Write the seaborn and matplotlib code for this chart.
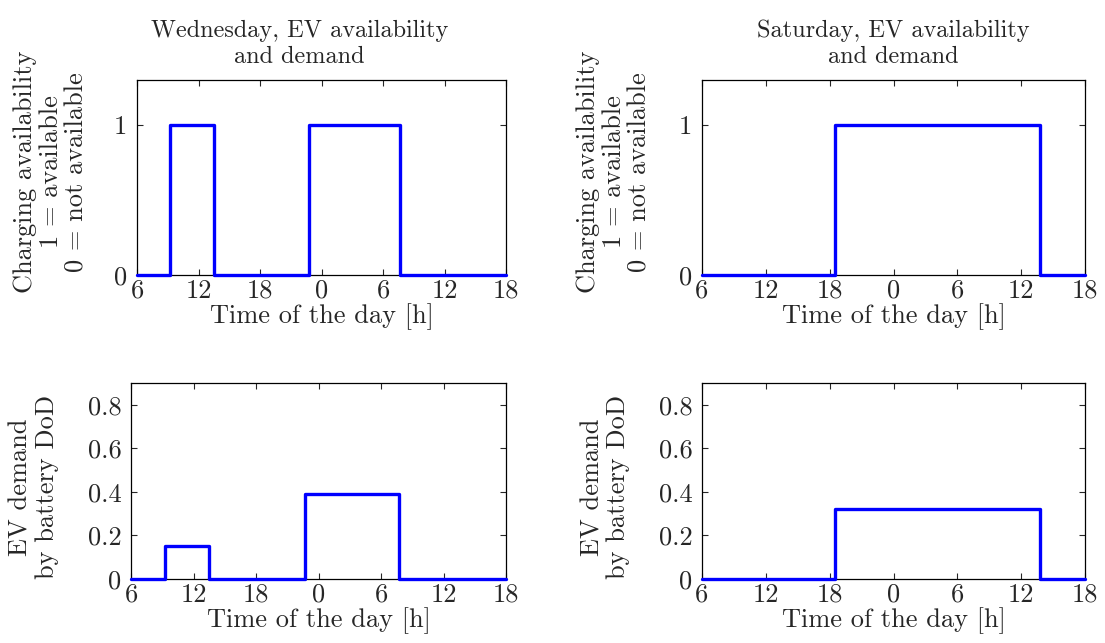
import matplotlib
matplotlib.use("Agg")
import matplotlib.pyplot as plt
import seaborn as sns
import pandas as pd

# time axis runs from 6h on the day to 18h on the next day (hours since midnight)
tick_pos = [6, 12, 18, 24, 30, 36, 42]
tick_labels = ["6", "12", "18", "0", "6", "12", "18"]

# step change points (steps-post)
wed_t = [6, 9.25, 13.5, 22.75, 31.7, 42]
wed_avail = [0, 1, 0, 1, 0, 0]
wed_demand = [0, 0.15, 0, 0.39, 0, 0]

sat_t = [6, 18.5, 37.75, 42]
sat_avail = [0, 1, 0, 0]
sat_demand = [0, 0.32, 0, 0]

titles = ["Wednesday, EV availability\nand demand", "Saturday, EV availability\nand demand"]
avail_label = "Charging availability\n1 = available\n0 = not available"
demand_label = "EV demand\nby battery DoD"
xlabel = "Time of the day [h]"

sns.set_style("ticks")
plt.rcParams["font.family"] = "serif"
plt.rcParams["font.serif"] = ["cmr10", "DejaVu Serif"]
plt.rcParams["axes.formatter.use_mathtext"] = True
plt.rcParams["font.size"] = 19
plt.rcParams["axes.unicode_minus"] = False

W, H = 1105, 643
fig = plt.figure(figsize=(W / 100, H / 100), dpi=100)


def px_axes(l, r, t, b):
    return fig.add_axes([l / W, 1 - b / H, (r - l) / W, (b - t) / H])


axes = {
    "tl": px_axes(137, 506, 80, 275),
    "bl": px_axes(131, 506, 383, 579),
    "tr": px_axes(702, 1085, 80, 275),
    "br": px_axes(702, 1085, 383, 579),
}

# key, times, values, availability panel?, ylabel centre (axes coords)
panels = [
    ("tl", wed_t, wed_avail, True, (-0.234, 0.528)),
    ("bl", wed_t, wed_demand, False, (-0.259, 0.47)),
    ("tr", sat_t, sat_avail, True, (-0.230, 0.528)),
    ("br", sat_t, sat_demand, False, (-0.253, 0.47)),
]

for key, t, v, is_avail, lab_xy in panels:
    ax = axes[key]
    df = pd.DataFrame({"t": t, "v": v})
    sns.lineplot(data=df, x="t", y="v", ax=ax, color="#0000ff", linewidth=2.4,
                 drawstyle="steps-post", clip_on=False, zorder=5)
    ax.set_xlim(6, 42)
    ax.set_xticks(tick_pos)
    ax.set_xticklabels(tick_labels)
    if is_avail:
        ax.set_ylim(0, 1.3)
        ax.set_yticks([0, 1])
        ax.set_yticklabels(["0", "1"])
        ax.set_ylabel(avail_label, linespacing=1.1)
    else:
        ax.set_ylim(0, 0.9)
        ax.set_yticks([0, 0.2, 0.4, 0.6, 0.8])
        ax.set_yticklabels(["0", "0.2", "0.4", "0.6", "0.8"])
        ax.set_ylabel(demand_label, linespacing=1.1)
    lab = ax.yaxis.label
    lab.set_rotation_mode("default")
    lab.set_ha("center")
    lab.set_va("center")
    ax.yaxis.set_label_coords(*lab_xy)
    ax.set_xlabel(xlabel, labelpad=0)
    ax.tick_params(direction="in", top=True, right=True, length=4, width=0.8)
    ax.tick_params(axis="x", pad=3)
    ax.tick_params(axis="y", pad=7)
    for s in ax.spines.values():
        s.set_visible(True)
        s.set_linewidth(0.9)
        s.set_color("black")

axes["tl"].set_title(titles[0], x=0.44, pad=12.5, fontsize=17.5, linespacing=1.2)
axes["tr"].set_title(titles[1], pad=12.5, fontsize=17.5, linespacing=1.2)

fig.savefig("out.png", dpi=100)
